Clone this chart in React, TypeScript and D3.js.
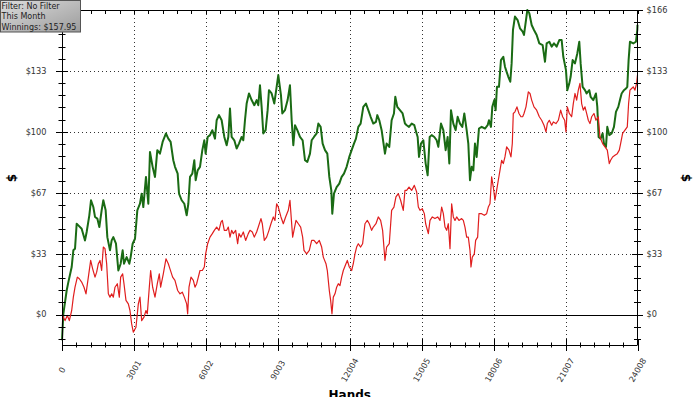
import React from 'react';
import * as d3 from 'd3';

// ---- data ----
const xTickValues = [0, 3001, 6002, 9003, 12004, 15005, 18006, 21007, 24008];
const yTickValues = [0, 33.2, 66.4, 99.6, 132.8, 166];
const yTickLabels = ['$0', '$33', '$67', '$100', '$133', '$166'];
const infoLines = ['Filter: No Filter', 'This Month', 'Winnings: $157.95'];
const xTitle = 'Hands';
const yTitle = '$';

// [hands, dollars]
const greenSeries: [number, number][] = [
  [0,-14],[56,0.4],[195,13.1],[265,17.7],[404,25.9],[473,35],[543,35.9],[612,49.5],[682,48.6],[820,46.8],
  [960,40.4],[1029,45],[1140,54.1],[1210,62.3],[1307,58.6],[1377,53.2],[1474,52.3],[1557,47.7],[1654,56.8],[1724,62.3],
  [1821,56.8],[1891,42.2],[2002,35],[2072,40.4],[2141,42.2],[2252,38.6],[2350,24],[2447,27.7],[2530,35],[2586,27.7],
  [2697,31.3],[2808,27.7],[2864,31.3],[2947,38.6],[3045,41.3],[3142,56.8],[3253,60.4],[3323,65.9],[3392,58.6],[3503,75],
  [3601,60.4],[3670,88.6],[3781,80.5],[3879,75],[3976,89.6],[4087,87.7],[4198,94.1],[4337,98.7],[4435,95.9],[4532,94.1],
  [4643,84.1],[4714,80.5],[4825,76.8],[4881,65.9],[4992,62.3],[5103,60.4],[5201,54.1],[5270,60.4],[5340,75],[5437,76.8],
  [5520,84.1],[5576,73.2],[5659,78.6],[5757,80.5],[5854,89.6],[5937,95],[5993,87.7],[6076,96.8],[6174,97.8],[6271,100.5],
  [6382,95.9],[6452,105.9],[6549,108.7],[6660,105.9],[6771,96.8],[6869,92.3],[6938,96.8],[7008,112.3],[7077,96.8],[7188,95],
  [7286,90.5],[7383,93.2],[7494,96.8],[7564,95],[7633,105.9],[7703,115],[7800,120.5],[7911,116.9],[8022,114.1],[8120,116.9],
  [8189,114.1],[8259,125],[8328,113.2],[8398,98.7],[8495,100.5],[8578,111.4],[8634,122.3],[8745,120.5],[8856,115],[8954,124.1],
  [9023,130.5],[9134,119.6],[9190,109.6],[9301,111.4],[9412,116.9],[9510,125],[9581,105.9],[9650,92.3],[9720,103.2],[9817,100.5],
  [9928,96.8],[10039,95],[10137,84.1],[10234,83.2],[10345,87.7],[10415,95],[10512,96.8],[10623,98.7],[10693,104.1],[10790,102.3],
  [10873,93.2],[10971,89.6],[11068,87.7],[11151,75],[11235,67.7],[11276,55],[11346,65.9],[11457,69.5],[11568,71.4],[11666,75],
  [11763,76.8],[11874,80.5],[11985,85.9],[12083,89.6],[12180,93.2],[12263,95.9],[12361,102.3],[12458,104.1],[12569,113.2],[12680,115],
  [12778,111.4],[12875,107.8],[12986,104.1],[13097,105],[13153,108.7],[13236,105.9],[13334,100.5],[13403,94.1],[13473,87.7],[13542,93.2],
  [13653,91.4],[13751,105.9],[13848,109.6],[13904,118.7],[13987,113.2],[14098,111.4],[14209,109.6],[14307,104.1],[14379,103.2],[14476,102.3],
  [14587,104.1],[14698,103.2],[14754,100.5],[14837,96.8],[14893,85.9],[14976,93.2],[15074,95],[15171,82.3],[15254,75.9],[15338,96.8],
  [15421,97.8],[15532,96.8],[15630,95],[15699,91.4],[15810,104.1],[15908,100.5],[16005,89.6],[16088,96.8],[16158,82.3],[16227,111.4],
  [16325,104.1],[16422,100.5],[16505,107.8],[16603,104.1],[16700,102.3],[16783,109.6],[16881,100.5],[16950,93.2],[17020,73.2],[17089,80.5],
  [17159,78.6],[17228,93.2],[17298,85.9],[17395,101.4],[17506,102.3],[17645,101.4],[17756,103.2],[17812,105.9],[17895,102.3],[17951,113.2],
  [18034,116.9],[18090,111.4],[18145,124.1],[18229,124.1],[18312,138.7],[18410,140.5],[18479,135.1],[18549,132.3],[18618,129.6],[18701,126.9],
  [18757,136.9],[18813,155.1],[18896,162.4],[19007,160.5],[19105,156],[19217,154.2],[19273,152.4],[19356,160.5],[19412,166],[19495,164.2],
  [19593,157.8],[19690,155.1],[19801,152.4],[19912,147.8],[20051,146.9],[20149,137.8],[20218,147.8],[20329,148.7],[20427,146],[20524,147.8],
  [20635,146],[20746,149.6],[20844,149.6],[20913,140.5],[21024,133.2],[21080,122.3],[21163,126],[21219,129.6],[21302,138.7],[21400,136.9],
  [21497,142.3],[21580,148.7],[21636,136.9],[21719,124.1],[21817,122.3],[21886,120.5],[21997,122.3],[22053,118.7],[22164,116.9],[22275,120.5],
  [22331,113.2],[22386,96.8],[22470,95.9],[22553,98.7],[22609,93.2],[22692,91.4],[22748,102.3],[22831,97.8],[22929,98.7],[23026,102.3],
  [23109,110.5],[23207,113.2],[23276,116.9],[23346,120.5],[23443,122.3],[23526,123.2],[23582,124.1],[23637,138.7],[23693,148.7],[23832,147.8],
  [23943,148.7],[23999,155.1],[24008,157.95],
];

const redSeries: [number, number][] = [
  [0,0],[126,-3.3],[223,-0.5],[306,-3.3],[404,2.2],[473,9.5],[543,14.9],[640,20.4],[723,19.5],[820,17.7],
  [918,14.9],[1001,11.3],[1099,20.4],[1196,29.5],[1279,24.9],[1377,20.4],[1446,23.1],[1516,27.7],[1585,29.5],[1654,24],
  [1724,36.8],[1794,35.9],[1863,27.7],[1933,11.3],[2002,9.5],[2072,11.3],[2141,9.5],[2211,14.9],[2308,16.8],[2391,9.5],
  [2447,20.4],[2530,22.2],[2586,16.8],[2669,7.7],[2767,5.8],[2836,2.2],[2906,-5.1],[2975,-9.6],[3086,-6.9],[3184,5.8],
  [3253,9.5],[3323,-3.3],[3420,-1.4],[3503,2.2],[3559,0.4],[3642,14.9],[3698,24],[3781,14.9],[3879,9.5],[3976,16.8],
  [4059,22.2],[4115,14.9],[4226,22.2],[4337,30.4],[4435,27.7],[4504,24.9],[4615,20.4],[4712,18.6],[4825,13.1],[4923,11.3],
  [5020,12.2],[5103,9.5],[5201,5.8],[5242,0.4],[5298,14.9],[5381,20.4],[5479,18.6],[5548,14.9],[5618,16.8],[5687,20.4],
  [5757,24],[5854,24],[5937,25.9],[5993,33.1],[6076,38.6],[6174,42.2],[6271,44.1],[6354,45.9],[6452,47.7],[6549,45.9],
  [6632,50.4],[6688,51.3],[6771,45.9],[6869,45.9],[6938,47.7],[7008,42.2],[7077,45.9],[7147,44.1],[7244,45.9],[7327,38.6],
  [7383,44.1],[7466,42.2],[7564,45],[7661,40.4],[7772,44.1],[7842,45.9],[7939,45],[8022,42.2],[8120,45],[8189,47.7],
  [8300,52.3],[8356,49.5],[8439,40.4],[8537,42.2],[8634,45.9],[8717,49.5],[8815,53.2],[8884,51.3],[8954,60.4],[9023,58.6],
  [9134,53.2],[9232,49.5],[9329,53.2],[9440,56.8],[9510,62.3],[9581,49.5],[9622,42.2],[9678,45.9],[9761,51.3],[9859,49.5],
  [9956,47.7],[10039,42.2],[10095,35],[10206,33.1],[10317,35],[10415,40.4],[10512,40.4],[10623,38.6],[10734,40.4],[10832,36.8],
  [10901,31.3],[11012,27.7],[11068,24],[11151,13.1],[11207,7.7],[11262,0.4],[11318,9.5],[11388,11.3],[11457,14.9],[11527,16.8],
  [11596,15.8],[11666,20.4],[11735,24],[11846,27.7],[11902,29.5],[11985,25.9],[12083,24],[12152,27.7],[12222,33.1],[12291,36.8],
  [12361,38.6],[12458,36.8],[12541,38.6],[12639,49.5],[12736,51.3],[12819,49.5],[12917,45.9],[12986,47.7],[13097,49.5],[13195,53.2],
  [13292,51.3],[13375,45.9],[13473,29.5],[13542,36.8],[13653,38.6],[13751,56.8],[13848,58.6],[13931,64.1],[14029,65.9],[14126,62.3],
  [14237,56.8],[14307,67.7],[14379,67.7],[14476,69.5],[14587,67.7],[14698,70.4],[14796,66.8],[14865,58.6],[14935,56.8],[15032,57.7],
  [15115,55],[15171,49.5],[15282,44.1],[15352,51.3],[15449,53.2],[15560,52.3],[15671,53.2],[15769,51.3],[15838,58.6],[15908,55],
  [15977,47.7],[16047,45.9],[16116,49.5],[16186,35.9],[16255,60.4],[16325,53.2],[16394,51.3],[16464,53.2],[16561,51.3],[16672,52.3],
  [16742,51.3],[16811,47.7],[16881,42.2],[16950,42.2],[17020,35],[17061,25.9],[17117,31.3],[17200,33.1],[17256,40.4],[17339,42.2],
  [17395,55],[17506,55],[17617,54.1],[17715,55],[17784,58.6],[17854,60.4],[17923,75],[17993,69.5],[18062,62.3],[18132,67.7],
  [18201,73.2],[18271,78.6],[18340,84.1],[18410,82.3],[18479,85.9],[18549,91.4],[18646,89.6],[18729,85.9],[18785,93.2],[18826,109.6],
  [18896,110.5],[18979,113.2],[19063,109.6],[19146,107.8],[19217,107.8],[19273,109.6],[19356,113.2],[19454,121.4],[19523,120.5],[19593,116.9],
  [19690,113.2],[19801,111.4],[19912,107.8],[20010,105.9],[20107,103.2],[20190,99.6],[20246,104.1],[20329,105.9],[20427,103.2],[20496,105],
  [20607,104.1],[20705,105.9],[20802,111.4],[20885,107.8],[20969,105.9],[21024,99.6],[21080,113.2],[21163,109.6],[21261,107.8],[21330,115],
  [21400,120.5],[21469,116.9],[21539,122.3],[21608,126],[21678,115],[21747,111.4],[21817,113.2],[21886,109.6],[21956,105.9],[22025,104.1],
  [22095,107.8],[22192,109.6],[22275,105.9],[22373,107.8],[22442,96.8],[22553,93.2],[22651,91.4],[22748,89.6],[22831,82.3],[22887,84.1],
  [22970,85.9],[23067,86.8],[23165,87.7],[23248,89.6],[23304,93.2],[23387,98.7],[23485,100.5],[23582,102.3],[23637,115],[23693,122.3],
  [23763,123.2],[23832,124.1],[23902,122.3],[23971,126],[24008,130.5],
];

// ---- layout ----
const W = 700;
const H = 397;
const LEFT = 62;
const RIGHT = 637.5;
const TOP = 10;
const BOTTOM = 345;
const FONT = 'DejaVu Sans, Verdana, sans-serif';

export default function App() {
  const x = d3.scaleLinear().domain([0, 24008]).range([LEFT, RIGHT]);
  const y = d3.scaleLinear().domain([-16.6, 166]).range([BOTTOM, TOP]);

  const xStep = 3001 / 5;
  const xMinor = d3.range(0, 24008 + 1, xStep);
  const yStep = 33.2 / 5;
  const yMinor = d3.range(-2, 26).map((i) => i * yStep).filter((v) => v >= -16.6 && v <= 166.01);
  const isMajorY = (v: number) => yTickValues.some((t) => Math.abs(t - v) < 0.01);
  const isMajorX = (v: number) => xTickValues.some((t) => Math.abs(t - v) < 1);

  const line = d3.line<[number, number]>().x((d) => x(d[0])).y((d) => y(d[1]));

  return (
    <svg width={W} height={H} style={{ position: 'absolute', left: 0, top: 0, background: '#fff' }}>
      <defs>
        <linearGradient id="boxGrad" x1="0" y1="0" x2="1" y2="1">
          <stop offset="0%" stopColor="#dcdcdc" />
          <stop offset="100%" stopColor="#9c9c9c" />
        </linearGradient>
      </defs>
      <rect width={W} height={H} fill="#fff" />

      {/* grid */}
      {yTickValues.filter((v) => v > 0 && v < 166).map((v) => (
        <line key={'gy' + v} x1={LEFT} x2={RIGHT} y1={Math.round(y(v)) + 0.5} y2={Math.round(y(v)) + 0.5}
          stroke="#333" strokeWidth={1} strokeDasharray="1 3" />
      ))}
      {xTickValues.filter((v) => v > 0 && v < 24008).map((v) => (
        <line key={'gx' + v} x1={Math.round(x(v)) + 0.5} x2={Math.round(x(v)) + 0.5} y1={TOP} y2={BOTTOM}
          stroke="#333" strokeWidth={1} strokeDasharray="1 3" />
      ))}
      {/* zero line */}
      <line x1={LEFT} x2={RIGHT} y1={Math.round(y(0)) + 0.5} y2={Math.round(y(0)) + 0.5} stroke="#000" strokeWidth={1} />

      {/* series */}
      <path d={line(greenSeries) || ''} fill="none" stroke="#1a6b14" strokeWidth={2} strokeLinejoin="round" />
      <path d={line(redSeries) || ''} fill="none" stroke="#e01e1e" strokeWidth={1.2} strokeLinejoin="round" />

      {/* axes frame */}
      <line x1={LEFT + 0.5} x2={LEFT + 0.5} y1={TOP} y2={BOTTOM} stroke="#000" />
      <line x1={RIGHT} x2={RIGHT} y1={TOP} y2={BOTTOM} stroke="#000" />
      <line x1={LEFT} x2={RIGHT} y1={BOTTOM + 0.5} y2={BOTTOM + 0.5} stroke="#000" />
      <line x1={LEFT} x2={RIGHT} y1={TOP + 0.5} y2={TOP + 0.5} stroke="#000" />

      {/* y ticks */}
      {yMinor.map((v) => {
        const yy = Math.round(y(v)) + 0.5;
        const m = isMajorY(v);
        return (
          <g key={'yt' + v}>
            <line x1={LEFT - (m ? 6 : 3.5)} x2={LEFT + (m ? 6 : 3.5)} y1={yy} y2={yy} stroke="#000" />
            <line x1={RIGHT - (m ? 5.5 : 3.5)} x2={RIGHT + (m ? 5.5 : 3.5)} y1={yy} y2={yy} stroke="#000" />
          </g>
        );
      })}
      {/* x ticks */}
      {xMinor.map((v) => {
        const xx = Math.round(x(v)) + 0.5;
        const m = isMajorX(v);
        return (
          <g key={'xt' + v}>
            <line x1={xx} x2={xx} y1={BOTTOM - (m ? 6 : 2.5)} y2={BOTTOM + (m ? 6 : 2.5)} stroke="#000" />
            <line x1={xx} x2={xx} y1={TOP} y2={TOP + 4} stroke="#000" />
          </g>
        );
      })}

      {/* y tick labels */}
      {yTickValues.map((v, i) => (
        <g key={'yl' + v}>
          <text x={46.5} y={y(v)} dy="0.35em" textAnchor="end" fontFamily={FONT} fontSize={8.2} fill="#333">
            {yTickLabels[i]}
          </text>
          <text x={646.5} y={y(v)} dy="0.35em" textAnchor="start" fontFamily={FONT} fontSize={8.2} fill="#333">
            {yTickLabels[i]}
          </text>
        </g>
      ))}
      {/* x tick labels */}
      {xTickValues.map((v) => (
        <text key={'xl' + v} x={x(v)} y={370} dy="0.35em" textAnchor="middle" fontFamily={FONT} fontSize={8.2}
          fill="#333" transform={`rotate(-60 ${x(v)} 370)`}>
          {String(v)}
        </text>
      ))}

      {/* axis titles */}
      <text x={12} y={178} dy="0.35em" textAnchor="middle" fontFamily={FONT} fontWeight="bold" fontSize={12}
        transform="rotate(-90 12 178)">{yTitle}</text>
      <text x={686} y={178} dy="0.35em" textAnchor="middle" fontFamily={FONT} fontWeight="bold" fontSize={12}
        transform="rotate(90 686 178)">{yTitle}</text>
      <text x={(LEFT + RIGHT) / 2} y={399} textAnchor="middle" fontFamily={FONT} fontWeight="bold" fontSize={12}>
        {xTitle}
      </text>

      {/* info box */}
      <rect x={0.5} y={0.5} width={80} height={31.5} fill="url(#boxGrad)" stroke="#555" />
      {infoLines.map((t, i) => (
        <text key={t} x={1.5} y={8.8 + i * 10.5} fontFamily={FONT} fontSize={8} fill="#222">{t}</text>
      ))}
    </svg>
  );
}
